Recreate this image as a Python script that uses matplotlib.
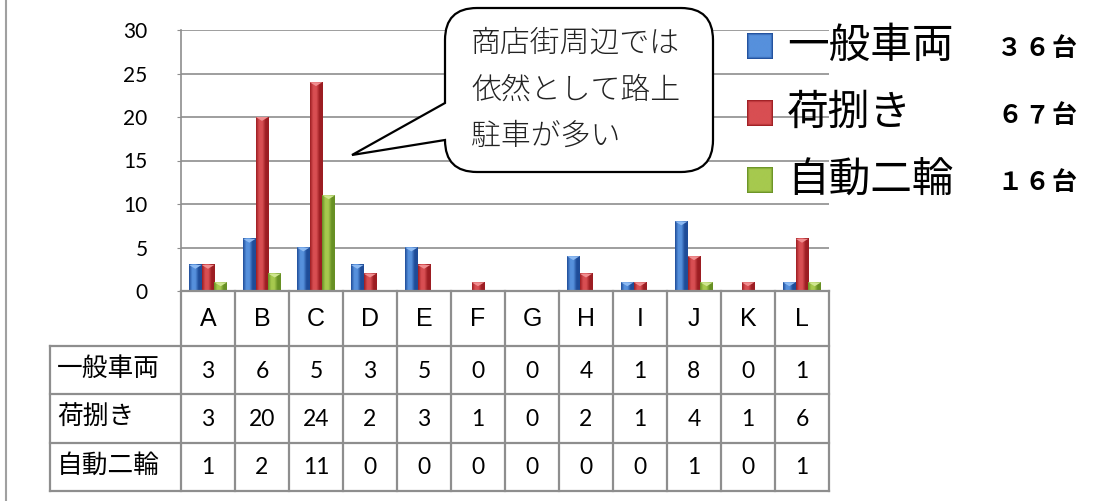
import numpy as np
import matplotlib
matplotlib.use("Agg")
import matplotlib.pyplot as plt
from matplotlib.colors import LinearSegmentedColormap
from matplotlib.path import Path
from matplotlib.patches import PathPatch, Polygon

plt.rcParams['font.family'] = ['Noto Sans CJK JP', 'DejaVu Sans']

# 地点ごとの台数
points = ['A', 'B', 'C', 'D', 'E', 'F', 'G', 'H', 'I', 'J', 'K', 'L']
series = ['一般車両', '荷捌き', '自動二輪']
ippan = [3, 6, 5, 3, 5, 0, 0, 4, 1, 8, 0, 1]
niyaba = [3, 20, 24, 2, 3, 1, 0, 2, 1, 4, 1, 6]
nirin = [1, 2, 11, 0, 0, 0, 0, 0, 0, 1, 0, 1]
note = ['商店街周辺では', '依然として路上', '駐車が多い']

values = [ippan, niyaba, nirin]
# (dark, light, top cap)
colors = [('#1f4c98', '#5690dc', '#8dbaf2'),
          ('#9c1d22', '#d84e52', '#f08e90'),
          ('#679024', '#a6c94e', '#cfe690')]

GRID = '#8e8e8e'
W, H = 1103, 501

fig = plt.figure(figsize=(W / 100, H / 100), dpi=100)

# ---- bar chart ----
ax = fig.add_axes([181 / W, (H - 291) / H, 648 / W, 261 / H])
x = np.arange(len(points))
bw = 0.235
grad = np.linspace(0, 1, 64).reshape(1, -1)

for k, (vals, (dark, light, cap)) in enumerate(zip(values, colors)):
    cmap = LinearSegmentedColormap.from_list('c%d' % k, [dark, light, light, dark, dark])
    pos = x + (k - 1) * bw
    bars = ax.bar(pos, vals, width=bw, color=light, zorder=3)
    for b, v in zip(bars, vals):
        if v == 0:
            continue
        x0 = b.get_x()
        ax.imshow(grad, extent=[x0, x0 + bw, 0, v], aspect='auto', cmap=cmap,
                  interpolation='bilinear', zorder=4)
        ax.add_patch(Polygon([[x0, v], [x0 + bw, v], [x0 + bw / 2, v - 0.45]],
                             closed=True, facecolor=cap, edgecolor='none', zorder=5))

ax.set_xlim(-0.5, len(points) - 0.5)
ax.set_ylim(0, 30)
ax.set_yticks(range(0, 31, 5))
ax.set_xticks([])
ax.yaxis.grid(True, color=GRID, linewidth=1.2, zorder=1)
ax.set_axisbelow(True)
for s in ['top', 'right', 'bottom']:
    ax.spines[s].set_visible(False)
ax.spines['left'].set_color(GRID)
ax.spines['left'].set_linewidth(1.2)
ax.tick_params(axis='y', length=3, color=GRID, pad=21, labelsize=15)
for lab in ax.get_yticklabels():
    lab.set_fontfamily('Lato')

# ---- data table under the chart ----
tax = fig.add_axes([181 / W, (H - 491) / H, 648 / W, 200 / H])
tax.set_xlim(-0.5, len(points) - 0.5)
tax.set_ylim(200, 0)
tax.axis('off')
rows = [0, 55, 103, 152, 200]
left = -0.5 - 131 / 54.0
lkw = dict(color=GRID, linewidth=1.6, clip_on=False)
for yy in rows:
    tax.plot([left if yy > 0 else -0.5, len(points) - 0.5], [yy, yy], **lkw)
for xx in np.arange(-0.5, len(points), 1.0):
    tax.plot([xx, xx], [0, 200], **lkw)
tax.plot([left, left], [55, 200], **lkw)

for i, p in enumerate(points):
    tax.text(i, 28, p, ha='center', va='center', fontsize=18, family='Liberation Sans')
for r, (name, vals) in enumerate(zip(series, values)):
    yc = (rows[r + 1] + rows[r + 2]) / 2
    tax.text(left + 0.13, yc - 1, name, ha='left', va='center', fontsize=18.5, clip_on=False)
    for i, v in enumerate(vals):
        tax.text(i, yc + 1, str(v), ha='center', va='center', fontsize=16.5, family='Lato')

# ---- overlay: callout, legend, frame ----
oax = fig.add_axes([0, 0, 1, 1], zorder=10)
oax.set_xlim(0, W)
oax.set_ylim(H, 0)
oax.axis('off')

oax.plot([6, 6], [0, H], color='#a0a0a0', linewidth=1.5)

x0, x1, y0, y1, r = 445, 713, 8, 172, 32
verts = [(x0 + r, y0), (x1 - r, y0), (x1, y0), (x1, y0 + r), (x1, y1 - r),
         (x1, y1), (x1 - r, y1), (x0 + r, y1), (x0, y1), (x0, y1 - r),
         (352, 155), (x0, 103), (x0, y0 + r), (x0, y0), (x0 + r, y0), (x0 + r, y0)]
codes = [Path.MOVETO, Path.LINETO, Path.CURVE3, Path.CURVE3, Path.LINETO,
         Path.CURVE3, Path.CURVE3, Path.LINETO, Path.CURVE3, Path.CURVE3,
         Path.LINETO, Path.LINETO, Path.LINETO, Path.CURVE3, Path.CURVE3, Path.CLOSEPOLY]
oax.add_patch(PathPatch(Path(verts, codes), facecolor='white', edgecolor='black',
                        linewidth=1.6))
for j, line in enumerate(note):
    oax.text(471, 43 + j * 47, line, ha='left', va='center', fontsize=21.5,
             fontweight='light', color='#222222')

# legend with bevelled markers
u = np.linspace(-1, 1, 40)
pyramid = 1 - np.maximum(np.abs(u)[None, :], np.abs(u)[:, None])
pyramid = np.minimum(pyramid * 3, 1)
ly = [46, 113, 180]
fullwidth = str.maketrans('0123456789', '０１２３４５６７８９')
for k, name in enumerate(series):
    dark, light, cap = colors[k]
    cmap = LinearSegmentedColormap.from_list('m%d' % k, [dark, light, light])
    yc = ly[k]
    oax.imshow(pyramid, extent=[747, 773, yc + 13, yc - 13], cmap=cmap,
               interpolation='bilinear', aspect='auto')
    oax.text(787, yc, name, ha='left', va='center', fontsize=30)
    label = str(sum(values[k])).translate(fullwidth) + '台'
    for c, ch in enumerate(label):
        oax.text(1010 + c * 27, yc + 3, ch, ha='center', va='center', fontsize=18,
                 fontweight='bold')
oax.set_xlim(0, W)
oax.set_ylim(H, 0)

fig.savefig('out.png', dpi=100)
